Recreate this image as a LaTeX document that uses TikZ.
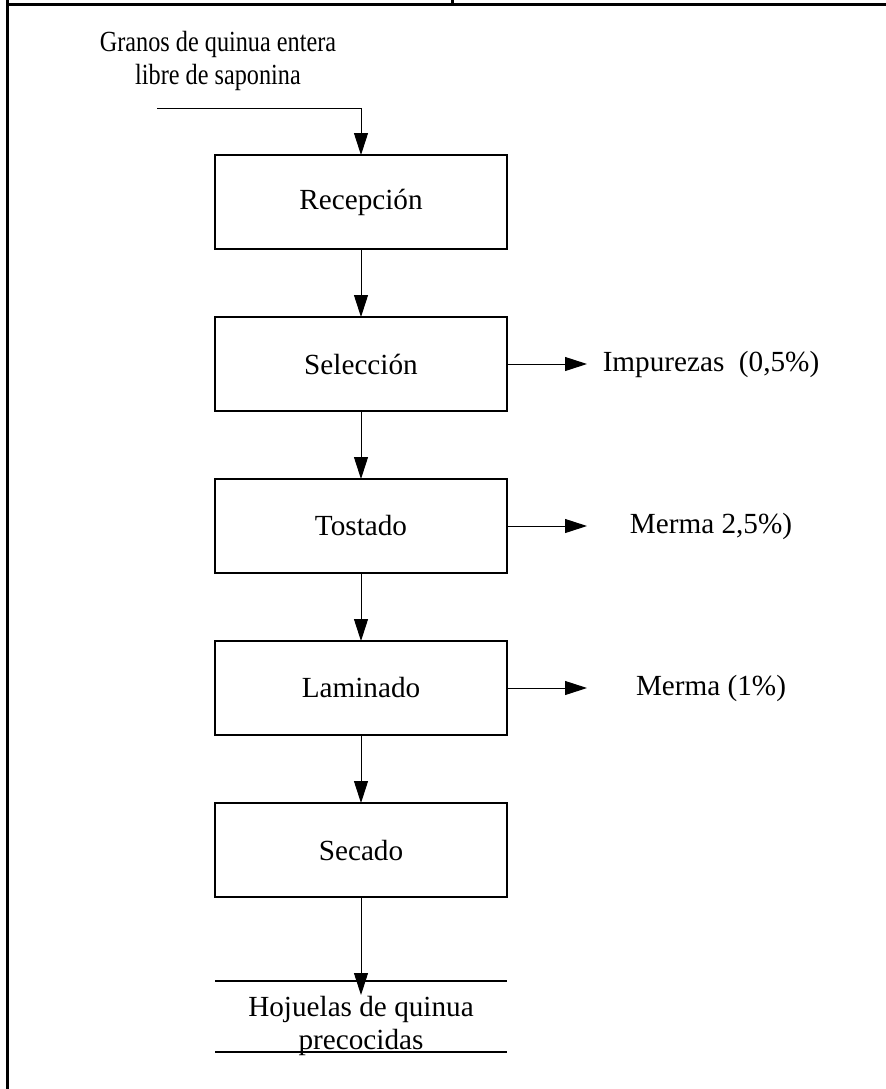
\documentclass[tikz,border=0pt]{standalone}
\usepackage{fontspec}
\setmainfont{Liberation Serif}
\usetikzlibrary{positioning,arrows.meta}

\tikzset{
  etapa/.style={draw,line width=0.9pt,minimum width=146pt,minimum height=47pt,inner sep=0pt,outer sep=0pt},
  flecha/.style={-{Triangle[length=11pt,width=7pt]},line width=0.5pt},
  marco/.style={line width=1.5pt},
  raya/.style={line width=0.65pt}
}

\begin{document}
\begin{tikzpicture}[x=0.5pt,y=-0.5pt,node distance=34pt,font=\fontsize{14.6pt}{16.5pt}\selectfont]
\useasboundingbox (0,0) rectangle (886,1089);

% marco de la hoja
\draw[marco] (7,0) -- (7,1089);
\draw[marco] (7,4) -- (886,4);
\draw[marco] (452,0) -- (452,4);

% etapas del proceso
\node[etapa] (recep) at (361,202) {Recepción};
\node[etapa,below=of recep] (selec) {Selección};
\node[etapa,below=of selec] (tost) {Tostado};
\node[etapa,below=of tost] (lamin) {Laminado};
\node[etapa,below=of lamin] (secado) {Secado};

% materia prima
\node[align=center] (granos) at (218,61) {\scalebox{0.83}[1]{Granos de quinua entera}\\\scalebox{0.83}[1]{libre de saponina}};
\coordinate (entrada) at (157,108);
\draw[flecha] (entrada) -| (recep.north);

\draw[flecha] (recep) -- (selec);
\draw[flecha] (selec) -- (tost);
\draw[flecha] (tost) -- (lamin);
\draw[flecha] (lamin) -- (secado);

% salidas laterales
\node (impur) at (711,364) {Impurezas~~(0,5\%)};
\node (merma1) at (711,526) {Merma 2,5\%)};
\node (merma2) at (711,688) {Merma (1\%)};
\coordinate (s1) at (587,364);
\coordinate (s2) at (587,526);
\coordinate (s3) at (587,688);
\draw[flecha] (selec.east) -- (s1);
\draw[flecha] (tost.east) -- (s2);
\draw[flecha] (lamin.east) -- (s3);

% producto final
\node[align=center] (hojuelas) at (361,1026) {Hojuelas de quinua\\precocidas};
\coordinate (tope) at (361,981);
\coordinate (base) at (361,1052);
\coordinate (fin) at (361,995);
\draw[raya] (tope -| secado.west) -- (tope -| secado.east);
\draw[raya] (base -| secado.west) -- (base -| secado.east);
\draw[flecha] (secado.south) -- (fin);
\end{tikzpicture}
\end{document}
